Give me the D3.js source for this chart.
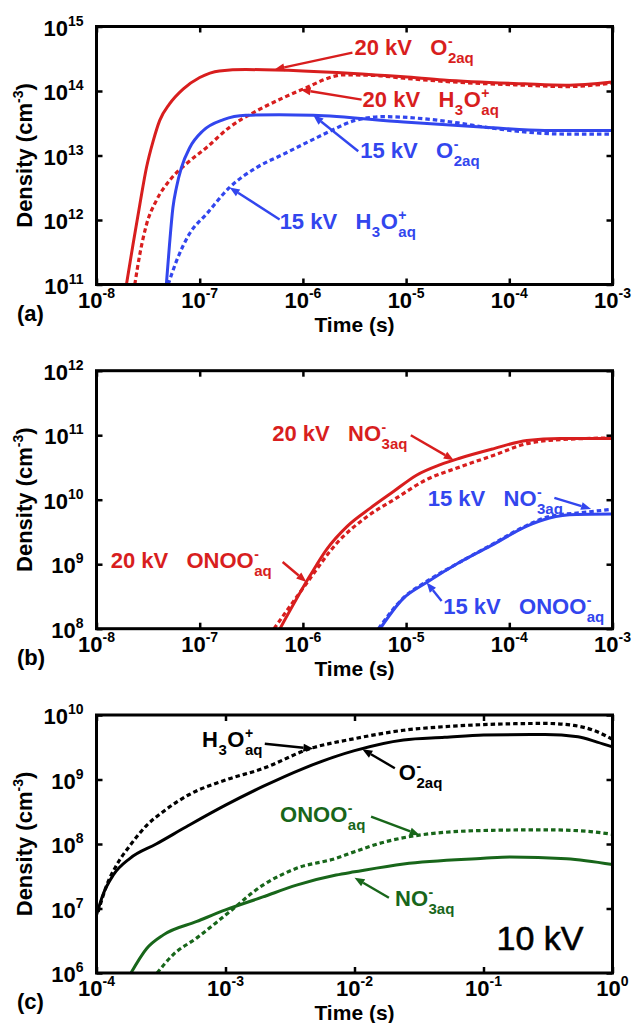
<!DOCTYPE html>
<html>
<head>
<meta charset="utf-8">
<script src="https://cdn.jsdelivr.net/npm/d3@7"></script>
<style>
  html, body { margin: 0; padding: 0; background: #fff; }
  svg { display: block; font-family: "Liberation Sans", Arial, Helvetica, sans-serif; font-weight: bold; }
</style>
</head>
<body>
<svg id="fig" width="634" height="1023"></svg>
<script>
// ---------- data: [time (s), density (cm^-3)] ----------
// (a) O2- and H3O+ at 20 kV and 15 kV
const o2_20kV = [[1.95e-8,1e11],[2.26e-8,4.2e11],[2.63e-8,1.74e12],[3.05e-8,6.5e12],[3.55e-8,1.7e13],[4.1e-8,3.5e13],[5.1e-8,6.3e13],[6.9e-8,1.07e14],[1e-7,1.62e14],[1.55e-7,2.05e14],[2.8e-7,2.15e14],[1e-6,2.05e14],[9.5e-6,1.66e14],[2.3e-5,1.48e14],[1.4e-4,1.29e14],[3.5e-4,1.23e14],[1e-3,1.38e14]];
const h3o_20kV = [[2.35e-8,1e11],[2.63e-8,2.95e11],[3.05e-8,8.5e11],[3.8e-8,2.0e12],[5.1e-8,4.1e12],[7.4e-8,7.4e12],[1.16e-7,1.32e13],[1.95e-7,2.75e13],[3.55e-7,4.9e13],[6.5e-7,7.9e13],[1e-6,1.07e14],[2.5e-6,1.78e14],[5e-6,1.74e14],[9.5e-6,1.58e14],[2.3e-5,1.41e14],[1.4e-4,1.23e14],[3.5e-4,1.17e14],[1e-3,1.32e14]];
const o2_15kV = [[4.75e-8,1e11],[5.1e-8,4.2e11],[5.5e-8,1.55e12],[5.95e-8,3.2e12],[6.65e-8,6.5e12],[8.0e-8,1.32e13],[1.07e-7,2.4e13],[1.7e-7,3.6e13],[2.8e-7,4.2e13],[5.9e-7,4.3e13],[1.26e-6,4.2e13],[9.5e-6,3.3e13],[5.8e-5,2.75e13],[2.2e-4,2.45e13],[1e-3,2.45e13]];
const h3o_15kV = [[4.95e-8,1e11],[5.95e-8,2.3e11],[7.9e-8,6.0e11],[1.16e-7,1.23e12],[1.95e-7,3.2e12],[3.55e-7,6.5e12],[6.5e-7,1.05e13],[1.26e-6,1.78e13],[1.9e-6,2.45e13],[3.2e-6,3.5e13],[6.0e-6,4.0e13],[3.2e-5,3.2e13],[5.8e-5,2.75e13],[3.5e-4,2.15e13],[1e-3,2.15e13]];

// (b) NO3- and ONOO- at 20 kV and 15 kV
const no3_20kV = [[6.0e-7,1e8],[1.17e-6,6.6e8],[1.7e-6,1.7e9],[2.7e-6,3.9e9],[4.5e-6,7.4e9],[7.6e-6,1.35e10],[1.26e-5,2.4e10],[2.15e-5,3.5e10],[3.3e-5,4.4e10],[7.1e-5,6.2e10],[1.48e-4,8.3e10],[3.1e-4,8.9e10],[1e-3,8.9e10]];
const onoo_20kV = [[5.25e-7,1e8],[1.1e-6,5.2e8],[2.15e-6,2.15e9],[4.2e-6,5.5e9],[7.6e-6,1e10],[1.58e-5,2.05e10],[3.3e-5,3.2e10],[7.1e-5,4.9e10],[1.48e-4,7.4e10],[2.45e-4,8.3e10],[1e-3,9.1e10]];
const no3_15kV = [[5.6e-6,1e8],[9.3e-6,2.9e8],[1.58e-5,5.2e8],[3.3e-5,1.07e9],[7.1e-5,2.05e9],[1.48e-4,3.9e9],[2.45e-4,5.2e9],[4.5e-4,5.9e9],[1e-3,6.0e9]];
const onoo_15kV = [[5.4e-6,1e8],[9.3e-6,2.95e8],[1.58e-5,5.4e8],[3.3e-5,1.07e9],[7.1e-5,2.1e9],[1.48e-4,4.0e9],[2.45e-4,5.5e9],[5e-4,6.3e9],[1e-3,7.1e9]];

// (c) all four species at 10 kV
const h3o_10kV = [[1.03e-4,8.9e6],[1.2e-4,2.3e7],[1.43e-4,4.7e7],[1.82e-4,9.5e7],[2.45e-4,1.95e8],[3.3e-4,3.2e8],[5.2e-4,5.8e8],[1e-3,9.8e8],[1.95e-3,1.48e9],[4.5e-3,3.0e9],[1e-2,4.3e9],[2.4e-2,5.8e9],[5e-2,6.6e9],[0.1,7.1e9],[0.3,7.4e9],[0.5,6.9e9],[0.71,5.8e9],[1,4.2e9]];
const o2_10kV = [[1e-4,7.9e6],[1.12e-4,1.62e7],[1.35e-4,3.3e7],[1.82e-4,6.0e7],[2.9e-4,1.0e8],[5.2e-4,1.95e8],[1e-3,4e8],[1.95e-3,7.8e8],[4e-3,1.48e9],[1e-2,2.8e9],[2.4e-2,4.1e9],[5e-2,4.5e9],[0.1,4.9e9],[0.3,5.0e9],[0.54,4.6e9],[0.76,3.8e9],[1,3.2e9]];
const onoo_10kV = [[2.95e-4,1e6],[3.9e-4,1.9e6],[6.0e-4,3.5e6],[1e-3,7.9e6],[1.95e-3,2.3e7],[3.55e-3,4.2e7],[7.2e-3,6.0e7],[1e-2,7.6e7],[1.7e-2,1.07e8],[3.0e-2,1.35e8],[0.1,1.62e8],[0.3,1.66e8],[0.62,1.58e8],[1,1.41e8]];
const no3_10kV = [[1.85e-4,1e6],[2.45e-4,2.4e6],[3.3e-4,3.9e6],[6.0e-4,6.3e6],[1e-3,9.5e6],[1.95e-3,1.51e7],[3.55e-3,2.3e7],[7.2e-3,3.3e7],[1e-2,3.7e7],[2.4e-2,4.9e7],[0.1,6.0e7],[0.16,6.3e7],[0.44,5.9e7],[1,4.8e7]];

// tick exponents (labels are 10^exp)
const timeExpAB = [-8, -7, -6, -5, -4, -3];
const densExpA  = [11, 12, 13, 14, 15];
const densExpB  = [8, 9, 10, 11, 12];
const timeExpC  = [-4, -3, -2, -1, 0];
const densExpC  = [6, 7, 8, 9, 10];

// ---------- styling ----------
const RED = "#d81e1e", BLUE = "#3246ee", GREEN = "#18661a", BLACK = "#000";
const DASH = "4.5,3";

// label pieces: {t} plain text, {sub}, {sup, sub} stacked
const O2m   = [{t:"O"}, {sup:"-", sub:"2aq"}];
const H3Op  = [{t:"H"}, {sub:"3"}, {t:"O"}, {sup:"+", sub:"aq"}];
const NO3m  = [{t:"NO"}, {sup:"-", sub:"3aq"}];
const ONOOm = [{t:"ONOO"}, {sup:"-", sub:"aq"}];
const kv = (s, sp) => [{t: s + "\u00a0kV\u00a0\u00a0\u00a0"}].concat(sp);

const panels = [
  {
    tag: "(a)", top: 26.5,
    xDom: [1e-8, 1e-3], yDom: [1e11, 1e15], xExp: timeExpAB, yExp: densExpA,
    series: [
      {data: h3o_20kV, color: RED, dash: true},
      {data: o2_20kV, color: RED, dash: false},
      {data: h3o_15kV, color: BLUE, dash: true},
      {data: o2_15kV, color: BLUE, dash: false}
    ],
    notes: [
      {tip: [5.3e-7, 2.15e14], tail: [78, -17], at: [80, -15], color: RED, parts: kv("20", O2m)},
      {tip: [9.5e-7, 1.05e14], tail: [61, 10], at: [62, 17], color: RED, parts: kv("20", H3Op)},
      {tip: [1.26e-6, 4.2e13], tail: [45, 36], at: [47, 43], color: BLUE, parts: kv("15", O2m)},
      {tip: [1.95e-7, 3.2e12], tail: [50, 32], at: [50, 42], color: BLUE, parts: kv("15", H3Op)}
    ]
  },
  {
    tag: "(b)", top: 370.7,
    xDom: [1e-8, 1e-3], yDom: [1e8, 1e12], xExp: timeExpAB, yExp: densExpB,
    series: [
      {data: onoo_20kV, color: RED, dash: true},
      {data: no3_20kV, color: RED, dash: false},
      {data: onoo_15kV, color: BLUE, dash: true},
      {data: no3_15kV, color: BLUE, dash: false}
    ],
    notes: [
      {tip: [2.9e-5, 4.1e10], tail: [-43, -25], at: [-181.6, -19.3], color: RED, parts: kv("20", NO3m)},
      {tip: [1.08e-6, 5.3e8], tail: [-23.7, -20], at: [-195.7, -13.7], color: RED, parts: kv("20", ONOOm)},
      {tip: [6.2e-4, 7.2e9], tail: [-36.7, -11], at: [-163.4, -3.3], color: BLUE, parts: kv("15", NO3m)},
      {tip: [1.58e-5, 5.2e8], tail: [15, 18.4], at: [16.6, 31.7], color: BLUE, parts: kv("15", ONOOm)}
    ]
  },
  {
    tag: "(c)", top: 715,
    xDom: [1e-4, 1], yDom: [1e6, 1e10], xExp: timeExpC, yExp: densExpC,
    series: [
      {data: h3o_10kV, color: BLACK, dash: true},
      {data: o2_10kV, color: BLACK, dash: false},
      {data: onoo_10kV, color: GREEN, dash: true},
      {data: no3_10kV, color: GREEN, dash: false}
    ],
    notes: [
      {tip: [4.8e-3, 3.0e9], tail: [-48.6, -5], at: [-111.3, -1.7], color: BLACK, parts: H3Op},
      {tip: [1.15e-2, 2.95e9], tail: [32.5, 19], at: [36.5, 31], color: BLACK, parts: O2m},
      {tip: [3.2e-2, 1.38e8], tail: [-48.6, -18.3], at: [-139.6, -13.3], color: GREEN, parts: ONOOm},
      {tip: [1e-2, 3.0e7], tail: [34.4, 20], at: [40.5, 28.4], color: GREEN, parts: NO3m}
    ],
    big: "10 kV"
  }
];

// ---------- layout ----------
const LEFT = 96.5, W = 516, H = 258;
const FS = 22;          // main text size
const svg = d3.select("#fig");

// writes a label made of plain / sub / sup pieces, left-aligned at (x, y)
function richText(g, x, y, parts, color) {
  let cx = x;
  parts.forEach(p => {
    if (p.t !== undefined) {
      const el = g.append("text").attr("x", cx).attr("y", y)
        .attr("font-size", FS).attr("fill", color).text(p.t);
      cx += el.node().getComputedTextLength();
    } else {
      let w = 0;
      if (p.sup) {
        const e = g.append("text").attr("x", cx + 0.5).attr("y", y - 9)
          .attr("font-size", 14).attr("fill", color).text(p.sup);
        w = Math.max(w, e.node().getComputedTextLength());
      }
      if (p.sub) {
        const e = g.append("text").attr("x", cx + 0.5).attr("y", y + 8)
          .attr("font-size", 15).attr("fill", color).text(p.sub);
        w = Math.max(w, e.node().getComputedTextLength());
      }
      cx += w + 1;
    }
  });
}

function arrow(g, x0, y0, x1, y1, color) {
  const ang = Math.atan2(y1 - y0, x1 - x0);
  const L = 10, hw = 4;
  const bx = x1 - L * Math.cos(ang), by = y1 - L * Math.sin(ang);
  g.append("line").attr("x1", x0).attr("y1", y0).attr("x2", bx).attr("y2", by)
    .attr("stroke", color).attr("stroke-width", 2.4);
  const px = -Math.sin(ang) * hw, py = Math.cos(ang) * hw;
  g.append("path")
    .attr("d", `M${x1},${y1}L${bx + px},${by + py}L${bx - px},${by - py}Z`)
    .attr("fill", color);
}

panels.forEach((P, i) => {
  const top = P.top, bottom = top + H, right = LEFT + W;
  const x = d3.scaleLog().domain(P.xDom).range([LEFT, right]);
  const y = d3.scaleLog().domain(P.yDom).range([bottom, top]);
  const g = svg.append("g");

  const clipId = "clip" + i;
  svg.append("clipPath").attr("id", clipId)
    .append("rect").attr("x", LEFT).attr("y", top).attr("width", W).attr("height", H);

  // curves
  const line = d3.line().x(d => x(d[0])).y(d => y(d[1])).curve(d3.curveMonotoneX);
  const lines = g.append("g").attr("clip-path", `url(#${clipId})`);
  P.series.forEach(s => {
    lines.append("path").datum(s.data).attr("d", line)
      .attr("fill", "none").attr("stroke", s.color)
      .attr("stroke-width", s.dash ? 3.2 : 3)
      .attr("stroke-dasharray", s.dash ? DASH : null)
      .attr("stroke-linejoin", "round");
  });

  // inward ticks on all four sides via d3 axes
  const xt = P.xExp.map(e => Math.pow(10, e));
  const yt = P.yExp.map(e => Math.pow(10, e));
  const tickStyle = sel => {
    sel.select(".domain").remove();
    sel.selectAll("text").remove();
    sel.selectAll("line").attr("stroke", "#000").attr("stroke-width", 2.5);
  };
  g.append("g").attr("transform", `translate(0,${bottom})`)
    .call(d3.axisTop(x).tickValues(xt).tickSize(6)).call(tickStyle);
  g.append("g").attr("transform", `translate(0,${top})`)
    .call(d3.axisBottom(x).tickValues(xt).tickSize(6)).call(tickStyle);
  g.append("g").attr("transform", `translate(${LEFT},0)`)
    .call(d3.axisRight(y).tickValues(yt).tickSize(6)).call(tickStyle);
  g.append("g").attr("transform", `translate(${right},0)`)
    .call(d3.axisLeft(y).tickValues(yt).tickSize(6)).call(tickStyle);

  // frame
  g.append("rect").attr("x", LEFT).attr("y", top).attr("width", W).attr("height", H)
    .attr("fill", "none").attr("stroke", "#000").attr("stroke-width", 3);

  // tick labels 10^n
  P.xExp.forEach(e => {
    const t = g.append("text").attr("x", x(Math.pow(10, e))).attr("y", bottom + 23)
      .attr("text-anchor", "middle").attr("font-size", FS);
    t.append("tspan").text("10");
    t.append("tspan").attr("dy", -10).attr("font-size", 14).text(e);
  });
  P.yExp.forEach(e => {
    const t = g.append("text").attr("x", LEFT - 13).attr("y", y(Math.pow(10, e)) + 9)
      .attr("text-anchor", "end").attr("font-size", FS);
    t.append("tspan").text("10");
    t.append("tspan").attr("dy", -10).attr("font-size", 14).text(e);
  });

  // axis titles
  g.append("text").attr("x", LEFT + W / 2).attr("y", bottom + 47)
    .attr("text-anchor", "middle").attr("font-size", 21).text("Time (s)");
  const yl = g.append("text")
    .attr("transform", `translate(32,${top + H / 2}) rotate(-90)`)
    .attr("text-anchor", "middle").attr("font-size", FS);
  yl.append("tspan").text("Density (cm");
  yl.append("tspan").attr("dy", -9).attr("font-size", 14).text("-3");
  yl.append("tspan").attr("dy", 9).text(")");

  g.append("text").attr("x", 17).attr("y", bottom + 36).attr("font-size", FS).text(P.tag);

  // annotations
  P.notes.forEach(n => {
    const tx = x(n.tip[0]), ty = y(n.tip[1]);
    arrow(g, tx + n.tail[0], ty + n.tail[1], tx, ty, n.color);
    richText(g, tx + n.at[0], ty + n.at[1], n.parts, n.color);
  });

  if (P.big) {
    g.append("text").attr("x", right - 29).attr("y", bottom - 23)
      .attr("text-anchor", "end").attr("font-size", 34).attr("font-weight", "normal")
      .attr("stroke", "#000").attr("stroke-width", 0.6)
      .text(P.big);
  }
});
</script>
</body>
</html>
